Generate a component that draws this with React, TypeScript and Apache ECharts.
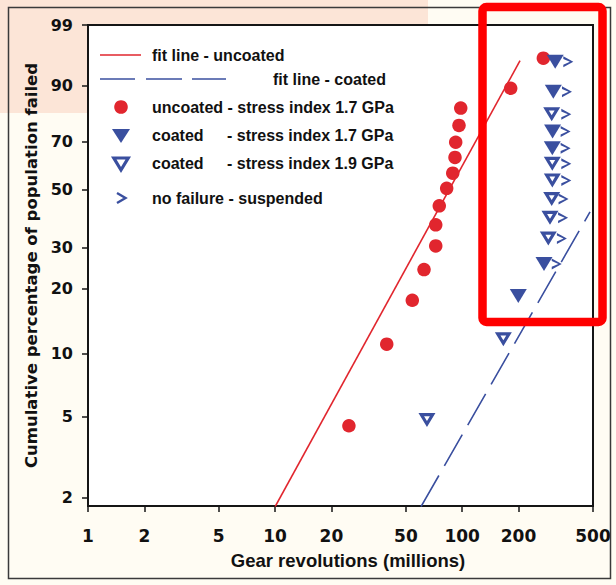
import React, { useEffect, useRef } from "react";
import * as echarts from "echarts";

// ---- data ----
const xTickLabels = [1, 2, 5, 10, 20, 50, 100, 200, 500];
const yTickLabels = [2, 5, 10, 20, 30, 50, 70, 90, 99];

// uncoated gears, stress index 1.7 GPa (millions of revolutions, cumulative % failed)
const uncoatedRevs = [24.8, 39.5, 54.1, 62.5, 72.2, 72.2, 75.4, 82.6, 89.0, 91.5, 92.3, 96.1, 98.2, 181.6, 271.4];
const uncoatedPct = [4.5, 11.1, 17.7, 24.2, 30.5, 37.1, 43.8, 50.6, 56.8, 63.4, 69.8, 76.6, 83.0, 89.2, 95.7];

// coated gears, stress index 1.7 GPa (filled triangles)
const coated17Revs = [199.4, 273.6, 303.0, 304.0, 306.8, 314.0];
const coated17Pct = [18.5, 25.6, 67.3, 74.2, 88.2, 95.1];

// coated gears, stress index 1.9 GPa (hollow triangles)
const coated19Revs = [64.8, 165.9, 288.5, 294.5, 300.8, 303.1, 303.0, 300.8];
const coated19Pct = [4.8, 11.7, 32.7, 39.5, 46.4, 53.8, 60.7, 80.8];

// suspended (no failure) markers
const suspendedRevs = [320, 341, 346, 348, 360, 360, 357, 357, 360, 363, 369];
const suspendedPct = [25.6, 32.7, 39.5, 46.4, 53.8, 60.7, 67.3, 74.2, 80.8, 88.2, 95.1];

// fit lines (end points)
const uncoatedFitRevs = [10, 203.7];
const uncoatedFitPct = [1.8, 95.3];
const coatedFitRevs = [60.2, 482];
const coatedFitPct = [1.8, 41.6];

// ---- scale transforms (Weibull probability paper) ----
const toX = (r: number) => Math.log10(r);
const toY = (p: number) => Math.log(-Math.log(1 - p / 100));
const pairs = (xs: number[], ys: number[]) => xs.map((x, i) => [toX(x), toY(ys[i])]);

const RED = "#E1262E";
const BLUE = "#3A4F9F";
const PEACH = "#FCE5D7";
const LEG_FONT = "'Liberation Sans', Arial, sans-serif";
const TICK_FONT = "'DejaVu Sans', Verdana, sans-serif";

const TRI_FILLED = "path://M0,0 L17,0 L8.5,14 Z";
const TRI_HOLLOW = "path://M0,0 L17,0 L8.5,14 Z M5.6,3.2 L8.5,8.0 L11.4,3.2 Z";
const CHEVRON = "path://M0,0 L10,5.5 L0,11 L0,8.4 L6.6,5.5 L0,2.6 Z";

export default function App() {
  const ref = useRef<HTMLDivElement>(null);
  useEffect(() => {
    if (!ref.current) return;
    const chart = echarts.init(ref.current, null, { renderer: "svg" });

    const legText = (x: number, y: number, text: string) => ({
      type: "text",
      x,
      y,
      z: 5,
      style: {
        text,
        fill: "#111",
        font: `bold 16px ${LEG_FONT}`,
        verticalAlign: "middle",
        align: "left",
      },
    });

    const option: any = {
      animation: false,
      backgroundColor: "#FFFCF3",
      grid: {
        show: true,
        left: 88,
        right: 23,
        top: 25,
        bottom: 79,
        backgroundColor: "#ffffff",
        borderColor: "#151515",
        borderWidth: 2,
      },
      xAxis: {
        type: "value",
        min: 0,
        max: toX(500),
        splitLine: { show: false },
        axisLine: { show: true, onZero: false, lineStyle: { color: "#151515", width: 2 } },
        axisTick: {
          show: true,
          customValues: xTickLabels.map(toX),
          length: 6,
          lineStyle: { color: "#151515", width: 1.5 },
        },
        axisLabel: {
          customValues: xTickLabels.map(toX),
          formatter: (v: number) => String(Math.round(Math.pow(10, v))),
          fontFamily: TICK_FONT,
          fontWeight: "bold",
          fontSize: 17,
          color: "#111",
          margin: 21,
        },
        name: "Gear revolutions (millions)",
        nameLocation: "middle",
        nameGap: 45,
        nameTextStyle: {
          fontFamily: LEG_FONT,
          fontWeight: "bold",
          fontSize: 18.5,
          color: "#111",
          padding: [0, 0, 0, 15],
        },
      },
      yAxis: {
        type: "value",
        min: -4.0,
        max: toY(99),
        splitLine: { show: false },
        axisLine: { show: true, onZero: false, lineStyle: { color: "#151515", width: 2 } },
        axisTick: {
          show: true,
          customValues: yTickLabels.map(toY),
          length: 6,
          lineStyle: { color: "#151515", width: 1.5 },
        },
        axisLabel: {
          customValues: yTickLabels.map(toY),
          formatter: (v: number) => String(Math.round(100 * (1 - Math.exp(-Math.exp(v))))),
          fontFamily: TICK_FONT,
          fontWeight: "bold",
          fontSize: 16,
          color: "#111",
          margin: 15,
        },
        name: "Cumulative percentage of population failed",
        nameLocation: "middle",
        nameGap: 46,
        nameTextStyle: {
          fontFamily: TICK_FONT,
          fontWeight: "bold",
          fontSize: 16.5,
          color: "#111",
        },
      },
      series: [
        {
          name: "fit line - uncoated",
          type: "line",
          data: pairs(uncoatedFitRevs, uncoatedFitPct),
          showSymbol: false,
          lineStyle: { color: RED, width: 1.6 },
          z: 1,
        },
        {
          name: "fit line - coated",
          type: "line",
          data: pairs(coatedFitRevs, coatedFitPct),
          showSymbol: false,
          lineStyle: { color: BLUE, width: 1.6, type: [36, 11] },
          z: 1,
        },
        {
          name: "uncoated - stress index 1.7 GPa",
          type: "scatter",
          data: pairs(uncoatedRevs, uncoatedPct),
          symbol: "circle",
          symbolSize: 13.5,
          itemStyle: { color: RED, opacity: 1 },
          z: 2,
        },
        {
          name: "coated - stress index 1.7 GPa",
          type: "scatter",
          data: pairs(coated17Revs, coated17Pct),
          symbol: TRI_FILLED,
          symbolSize: [17, 14],
          itemStyle: { color: BLUE, opacity: 1 },
          z: 3,
        },
        {
          name: "coated - stress index 1.9 GPa",
          type: "scatter",
          data: pairs(coated19Revs, coated19Pct),
          symbol: TRI_HOLLOW,
          symbolSize: [17, 14],
          itemStyle: { color: BLUE, opacity: 1 },
          z: 3,
        },
        {
          name: "no failure - suspended",
          type: "scatter",
          data: pairs(suspendedRevs, suspendedPct),
          symbol: CHEVRON,
          symbolSize: [10, 11],
          itemStyle: { color: BLUE, opacity: 1 },
          z: 4,
        },
      ],
      graphic: [
        // slide background (peach band), kept outside the plot area
        {
          type: "rect",
          silent: true,
          shape: { x: 0, y: 0, width: 428, height: 24 },
          style: { fill: PEACH },
        },
        {
          type: "rect",
          silent: true,
          shape: { x: 0, y: 24, width: 87, height: 89 },
          style: { fill: PEACH },
        },
        {
          type: "rect",
          z: 5,
          silent: true,
          shape: { x: 8.5, y: 7.5, width: 602, height: 571 },
          style: { fill: "none", stroke: "#3a3a3a", lineWidth: 1.5 },
        },
        // legend
        {
          type: "line",
          z: 5,
          shape: { x1: 100, y1: 55, x2: 141, y2: 55 },
          style: { stroke: RED, lineWidth: 1.6 },
        },
        legText(152, 55, "fit line - uncoated"),
        { type: "line", z: 5, shape: { x1: 100, y1: 79, x2: 135, y2: 79 }, style: { stroke: BLUE, lineWidth: 1.6 } },
        { type: "line", z: 5, shape: { x1: 146, y1: 79, x2: 182, y2: 79 }, style: { stroke: BLUE, lineWidth: 1.6 } },
        { type: "line", z: 5, shape: { x1: 192, y1: 79, x2: 226, y2: 79 }, style: { stroke: BLUE, lineWidth: 1.6 } },
        legText(273, 79, "fit line - coated"),
        { type: "circle", z: 5, shape: { cx: 121, cy: 107, r: 6.8 }, style: { fill: RED } },
        legText(152, 107, "uncoated - stress index 1.7 GPa"),
        {
          type: "polygon",
          z: 5,
          shape: { points: [[112, 129], [130, 129], [121, 143]] },
          style: { fill: BLUE },
        },
        legText(152, 135, "coated"),
        legText(227, 135, "- stress index 1.7 GPa"),
        {
          type: "polygon",
          z: 5,
          shape: { points: [[113.8, 158], [128.2, 158], [121, 170]] },
          style: { fill: "#fff", stroke: BLUE, lineWidth: 3.2, lineJoin: "miter" },
        },
        legText(152, 163, "coated"),
        legText(227, 163, "- stress index 1.9 GPa"),
        {
          type: "polyline",
          z: 5,
          shape: { points: [[117, 193], [125.5, 198], [117, 203]] },
          style: { fill: "none", stroke: BLUE, lineWidth: 2.4 },
        },
        legText(152, 198, "no failure - suspended"),
        // highlight box
        {
          type: "rect",
          z: 100,
          silent: true,
          shape: { x: 482.5, y: 7, width: 120, height: 315, r: 4 },
          style: { fill: "none", stroke: "#FF0000", lineWidth: 8.5 },
        },
      ],
    };

    chart.setOption(option);
    return () => chart.dispose();
  }, []);

  return (
    <div
      ref={ref}
      style={{ position: "fixed", left: 0, top: 0, width: 616, height: 585 }}
    />
  );
}
